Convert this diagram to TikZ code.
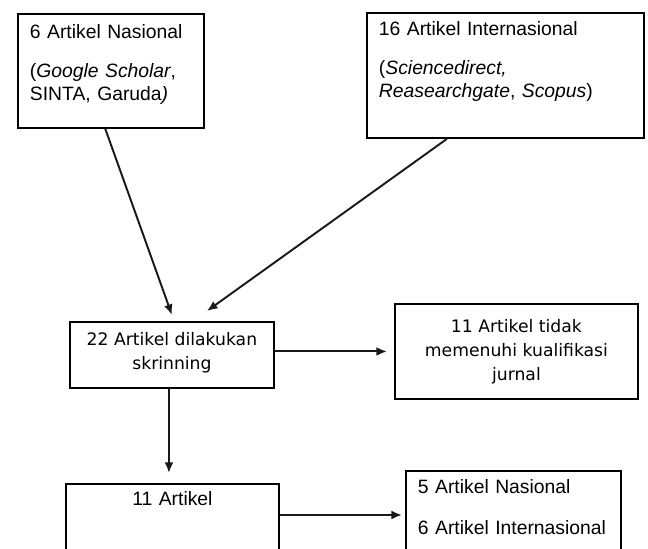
\documentclass[tikz,border=0pt]{standalone}
\usepackage{fontspec}
\setmainfont{Liberation Sans}
\newfontfamily\verdana{DejaVu Sans}
\usepackage{tikz}
\usetikzlibrary{arrows.meta,calc}

\begin{document}
\begin{tikzpicture}[x=0.02cm, y=-0.02cm,
    >={Latex[length=6pt,width=5pt]},
    topbox/.style={draw=black, line width=1.1pt, anchor=north west, align=left,
      inner xsep=0.24cm, text height=0.28cm,
      font=\fontsize{11}{13.1}\selectfont},
    midbox/.style={draw=black, line width=1.1pt, anchor=north west, align=center,
      font=\verdana\fontsize{9.8}{13.6}\selectfont},
    link/.style={->, line width=1.1pt, black!90}]
    % frame of the page, the lower boxes run off it
    \useasboundingbox (0,0) rectangle (648,548);
    \clip (0,0) rectangle (648,548);

    % sources
    \node[topbox, inner ysep=0.22cm, text width=3.24cm, text depth=1.56cm] (nas) at (17,13)
        {6 Artikel Nasional\\[0.32cm]
         (\textit{Google Scholar},\\
         SINTA, Garuda\textit{)}};
    \node[topbox, inner ysep=0.18cm, text width=5.06cm, text depth=1.86cm] (int) at (366,12)
        {16 Artikel Internasional\\[0.32cm]
         (\textit{Sciencedirect,}\\
         \textit{Reasearchgate}, \textit{Scopus})};

    % screening
    \node[midbox, minimum width=4.08cm, inner ysep=0pt, text height=0.95cm, text depth=0.37cm] (scr) at (69,321)
        {22 Artikel dilakukan\\skrinning};
    \node[midbox, minimum width=4.86cm, minimum height=1.9cm] (out) at (394,303)
        {11 Artikel tidak\\memenuhi kualifikasi\\jurnal};

    % result
    \node[topbox, align=center, inner ysep=0.16cm, text width=3.78cm, text depth=1.0cm] (res) at (65,483)
        {11 Artikel};
    \node[topbox, inner ysep=0.18cm, text width=3.82cm, text depth=1.12cm] (sum) at (405,470)
        {5 Artikel Nasional\\[0.36cm]
         6 Artikel Internasional};

    % arrows
    \draw[link] ($(nas.south west)!0.47!(nas.south east)$) -- ([yshift=0.12cm]scr.north);
    \draw[link] ($(int.south west)!0.29!(int.south east)$) -- ([xshift=0.7cm,yshift=0.2cm]scr.north);
    \draw[link, shorten >=0.14cm] (scr.east |- out.west) -- (out.west);
    \draw[link, shorten >=0.2cm] ([xshift=-0.06cm]scr.south) -- ([xshift=-0.06cm]scr.south |- res.north);
    \draw[link, shorten >=0.06cm] (res.east |- sum.west) -- (sum.west);
\end{tikzpicture}
\end{document}
